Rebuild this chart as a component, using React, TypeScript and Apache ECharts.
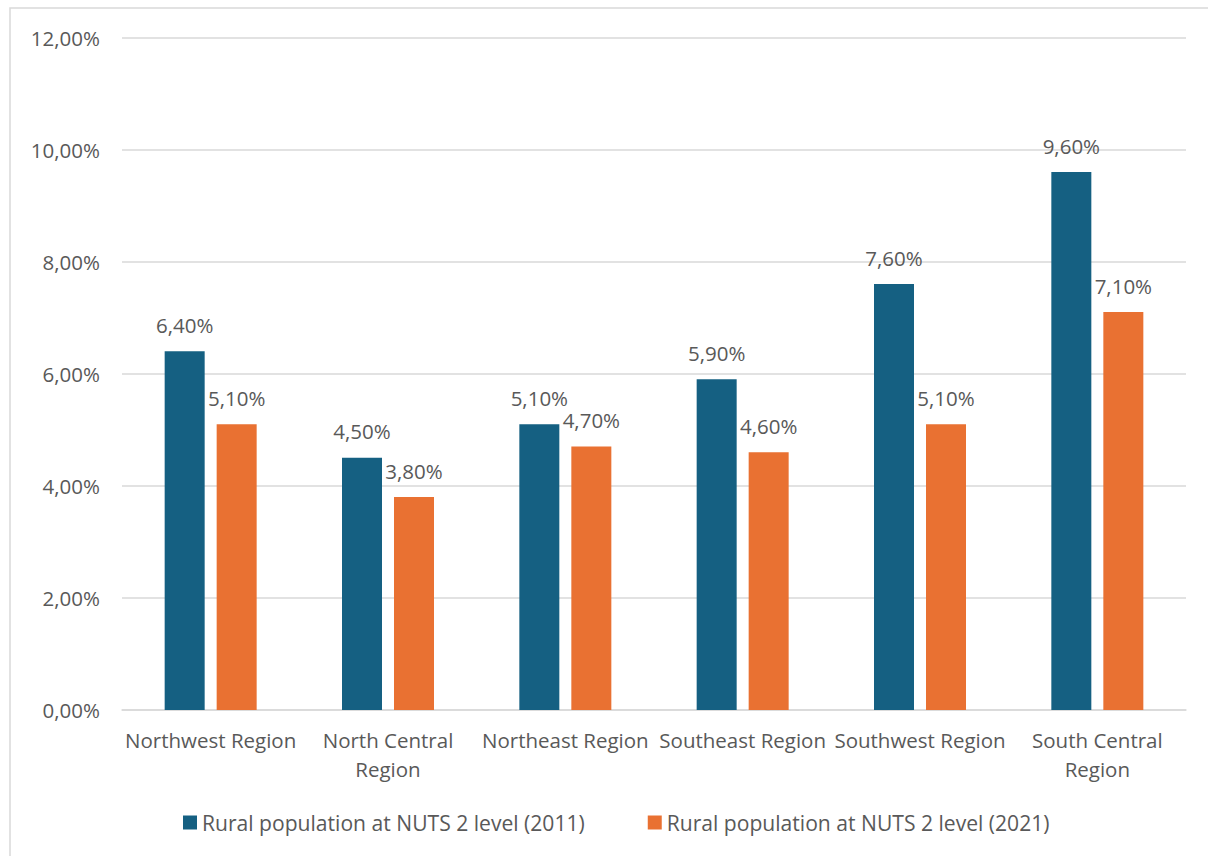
import React, { useEffect, useRef } from "react";
import * as echarts from "echarts";

const categories = [
  "Northwest Region",
  "North Central\nRegion",
  "Northeast Region",
  "Southeast Region",
  "Southwest Region",
  "South Central\nRegion",
];
const series2011 = [6.4, 4.5, 5.1, 5.9, 7.6, 9.6];
const series2021 = [5.1, 3.8, 4.7, 4.6, 5.1, 7.1];
const seriesNames = [
  "Rural population at NUTS 2 level (2011)",
  "Rural population at NUTS 2 level (2021)",
];

const fmt = (v: number) => v.toFixed(2).replace(".", ",") + "%";
const FONT = "'Open Sans', 'Noto Sans', sans-serif";
const TEXT = "#595959";
const FS = 20.5;

export default function App() {
  const ref = useRef<HTMLDivElement>(null);
  useEffect(() => {
    document.body.style.margin = "0";
    const chart = echarts.init(ref.current!, undefined, { renderer: "svg" });
    const label = {
      show: true,
      position: "top" as const,
      distance: 16,
      color: TEXT,
      fontSize: FS,
      fontFamily: FONT,
      formatter: (p: any) => fmt(p.value),
    };
    chart.setOption({
      animation: false,
      backgroundColor: "#ffffff",
      textStyle: { fontFamily: FONT },
      graphic: [
        {
          type: "rect",
          shape: { x: 10, y: 8, width: 1400, height: 1000 },
          style: { fill: "none", stroke: "#d9d9d9", lineWidth: 1.5 },
          silent: true,
        },
      ],
      grid: { left: 122, right: 22, top: 37.5, bottom: 146, containLabel: false },
      legend: {
        bottom: 23,
        left: 183,
        itemWidth: 14,
        itemHeight: 14,
        itemGap: 63,
        icon: "rect",
        padding: 0,
        textStyle: { color: TEXT, fontSize: 21.1, fontFamily: FONT },
        data: seriesNames,
      },
      xAxis: {
        type: "category",
        data: categories,
        axisTick: { show: false },
        axisLine: { lineStyle: { color: "#d9d9d9", width: 1.5 } },
        axisLabel: {
          color: TEXT,
          fontSize: FS,
          fontFamily: FONT,
          margin: 15,
          lineHeight: 29,
          interval: 0,
        },
      },
      yAxis: {
        type: "value",
        min: 0,
        max: 12,
        interval: 2,
        axisLine: { show: false },
        axisTick: { show: false },
        splitLine: { lineStyle: { color: "#d9d9d9", width: 1.5 } },
        axisLabel: {
          color: TEXT,
          fontSize: FS,
          fontFamily: FONT,
          margin: 22,
          formatter: (v: number) => fmt(v),
        },
      },
      series: [
        {
          name: seriesNames[0],
          type: "bar",
          data: series2011,
          barWidth: 40,
          barGap: "30%",
          itemStyle: { color: "#156082" },
          label,
        },
        {
          name: seriesNames[1],
          type: "bar",
          data: series2021,
          barWidth: 40,
          barGap: "30%",
          itemStyle: { color: "#E97132" },
          label,
        },
      ],
    });
    return () => chart.dispose();
  }, []);
  return <div ref={ref} style={{ width: 1208, height: 856 }} />;
}
